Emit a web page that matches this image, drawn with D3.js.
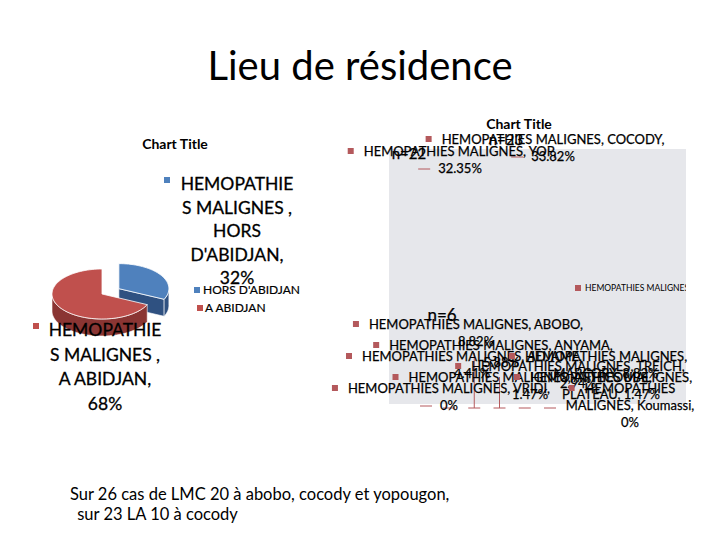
<!DOCTYPE html>
<html>
<head>
<meta charset="utf-8">
<script src="https://cdn.jsdelivr.net/npm/d3@7"></script>
<style>
  body { margin: 0; background: #fff; }
  svg { display: block; font-family: Lato, "Open Sans", sans-serif; }
</style>
</head>
<body>
<svg id="chart" width="720" height="540"></svg>
<script>
// left pie : lieu de residence
const pieCats = ["HORS D'ABIDJAN", "A ABIDJAN"];
const pieValues = [32, 68];
const pieTop = ["#4f81bd", "#c0504d"];
const pieWall = ["#2f5181", "#8a3533"];

// right chart : repartition par commune (68 cas)
const zones = ["COCODY", "YOP", "ABOBO", "ANYAMA", "ADJAME", "MARCORY", "TREICH", "ATTECOUBE", "VRIDI", "PLATEAU", "Koumassi"];
const cases = [23, 22, 6, 4, 3, 6, 2, 1, 0, 1, 0];
const nLabels = ["n=23", "n=22", "n=6"];
const leadZones = ["ABOBO", "ANYAMA", "ADJAME", "MARCORY", "TREICH"];

// label placement (layout only)
const labelLayout = {
  COCODY:    { cx: 553, y: 144, wrap: 1, dash: true },
  YOP:       { cx: 460, y: 156, wrap: 1, dash: true },
  ABOBO:     { cx: 476, y: 329, wrap: 1 },
  ANYAMA:    { cx: 501, y: 350, wrap: 1, leadTop: 353 },
  ADJAME:    { cx: 472, y: 361, wrap: 1, leadTop: 377 },
  MARCORY:   { cx: 606, y: 361, wrap: 2 },
  TREICH:    { cx: 578, y: 371, wrap: 1 },
  ATTECOUBE: { cx: 530, y: 382, wrap: 1 },
  VRIDI:     { cx: 449, y: 393, wrap: 1, dash: true },
  PLATEAU:   { cx: 611, y: 382, wrap: 2 },
  Koumassi:  { cx: 630, y: 393, wrap: 3 }
};
const nLayout = [[506, 145, 15], [409, 159, 15], [442, 321, 17]];

const svg = d3.select("#chart");
const total = d3.sum(cases);
const fmtPct = v => v === 0 ? "0%" : d3.format(".2f")(v) + "%";
const ink = "#000";

// main title
svg.append("text")
  .attr("x", 360).attr("y", 80)
  .attr("text-anchor", "middle")
  .style("font-size", "40px").attr("fill", ink)
  .text("Lieu de résidence");

// ---------- left pie ----------
svg.append("text")
  .attr("x", 175).attr("y", 149)
  .attr("text-anchor", "middle")
  .style("font-size", "14px").style("font-weight", "bold")
  .text("Chart Title");

const rx = 50, ry = 25, depth = 17;
const pieG = svg.append("g").attr("transform", "translate(102,294)");
const arcs = d3.pie().sort(null).value(d => d)(pieValues);
const pt = a => [rx * Math.sin(a), -ry * Math.cos(a)];

function arcPts(a0, a1) {
  const n = Math.max(2, Math.ceil((a1 - a0) / 0.05));
  return d3.range(n + 1).map(i => pt(a0 + (a1 - a0) * i / n));
}

arcs.forEach((d, i) => {
  const mid = (d.startAngle + d.endAngle) / 2;
  const off = i === 0 ? 20 : 0;
  const g = pieG.append("g")
    .attr("transform", `translate(${off * Math.sin(mid)},${-off * Math.cos(mid) * ry / rx})`);
  // cut face at end angle (visible for the exploded slice)
  const pe = pt(d.endAngle);
  g.append("path")
    .attr("d", `M0,0L${pe}L${pe[0]},${pe[1] + depth}L0,${depth}Z`)
    .attr("fill", pieWall[i]).attr("stroke", "#fff").attr("stroke-width", 0.6);
  // outer wall, front half only
  const s = Math.max(d.startAngle, Math.PI / 2), e = Math.min(d.endAngle, Math.PI * 1.5);
  if (s < e) {
    const top = arcPts(s, e);
    const bottom = top.map(p => [p[0], p[1] + depth]).reverse();
    g.append("path")
      .attr("d", "M" + top.concat(bottom).join("L") + "Z")
      .attr("fill", pieWall[i]).attr("stroke", "#fff").attr("stroke-width", 0.6);
  }
  g.append("path")
    .attr("d", "M0,0L" + arcPts(d.startAngle, d.endAngle).join("L") + "Z")
    .attr("fill", pieTop[i]).attr("stroke", "#fff").attr("stroke-width", 0.8);
});

// pie data labels
const pieLabelPos = [[237, 190, 23.5, 164, 177], [105, 336, 24.5, 33, 323]];
pieCats.forEach((c, i) => {
  const words = c.length > 10 ? c.split(" ") : [c];
  words[words.length - 1] += ",";
  const lines = ["HEMOPATHIE", "S MALIGNES ,"].concat(words, [pieValues[i] + "%"]);
  const [cx, y0, lh, mx, my] = pieLabelPos[i];
  svg.append("rect").attr("x", mx).attr("y", my).attr("width", 6).attr("height", 6).attr("fill", pieTop[i]);
  const t = svg.append("text").attr("text-anchor", "middle").style("font-size", "17.5px")
    .attr("fill", ink).attr("stroke", ink).attr("stroke-width", 0.3);
  lines.forEach((l, k) => t.append("tspan").attr("x", cx).attr("y", y0 + k * lh).text(l));
});

// pie legend
const legY = d3.scalePoint().domain(pieCats).range([290, 308]);
pieCats.forEach((c, i) => {
  svg.append("rect").attr("x", 194 + i * 3).attr("y", legY(c) - 3).attr("width", 6).attr("height", 6).attr("fill", pieTop[i]);
  svg.append("text").attr("x", 203 + i * 2).attr("y", legY(c) + 4)
    .style("font-size", "12px").attr("fill", ink).attr("stroke", ink).attr("stroke-width", 0.2).text(c);
});

// ---------- right chart ----------
const plot = { x0: 389, x1: 686, y0: 149, y1: 404 };
svg.append("defs").append("clipPath").attr("id", "plotClip")
  .append("rect").attr("x", plot.x0).attr("y", 0).attr("width", plot.x1 - plot.x0).attr("height", 540);

svg.append("rect")
  .attr("x", plot.x0).attr("y", plot.y0)
  .attr("width", plot.x1 - plot.x0).attr("height", plot.y1 - plot.y0)
  .attr("fill", "#e6e7eb");

svg.append("text")
  .attr("x", 519).attr("y", 129)
  .attr("text-anchor", "middle")
  .style("font-size", "14px").style("font-weight", "bold")
  .text("Chart Title");

// series legend (clipped by the plot edge)
svg.append("g").attr("clip-path", "url(#plotClip)")
  .call(g => {
    g.append("rect").attr("x", 575).attr("y", 285).attr("width", 6).attr("height", 6).attr("fill", "#b4595c");
    g.append("text").attr("x", 585).attr("y", 291).style("font-size", "8.5px").attr("fill", ink).text("HEMOPATHIES MALIGNES");
  });

const markColor = "#b4595c";
const xLead = d3.scalePoint().domain(leadZones).range([449, 550]);
const lh = 17;

// leader lines to the bottom edge
leadZones.forEach(z => {
  const x = xLead(z), L = labelLayout[z];
  svg.append("line").attr("x1", x - 6).attr("x2", x + 6).attr("y1", plot.y1 + 4).attr("y2", plot.y1 + 4)
    .attr("stroke", markColor).attr("stroke-width", 1);
  if (L.leadTop) {
    svg.append("line").attr("x1", x).attr("x2", x).attr("y1", L.leadTop).attr("y2", plot.y1 + 4)
      .attr("stroke", markColor).attr("stroke-width", 1);
  }
});

zones.forEach((z, i) => {
  const L = labelLayout[z];
  const pct = fmtPct(cases[i] / total * 100);
  let lines;
  if (L.wrap === 1) lines = [`HEMOPATHIES MALIGNES,  ${z},`, pct];
  else if (L.wrap === 2) lines = ["HEMOPATHIES MALIGNES,", `${z}, ${pct}`];
  else lines = ["HEMOPATHIES", `MALIGNES,  ${z},`, pct];
  const t = svg.append("text").attr("text-anchor", "middle")
    .style("font-size", "13px").attr("fill", ink).attr("stroke", ink).attr("stroke-width", 0.25);
  lines.forEach((l, k) => t.append("tspan").attr("x", L.cx).attr("y", L.y + k * lh).text(l));
  const tsp = t.selectAll("tspan").nodes();
  const w0 = tsp[0].getComputedTextLength();
  svg.append("rect")
    .attr("x", L.cx - w0 / 2 - 16).attr("y", L.y - 8)
    .attr("width", 6).attr("height", 6).attr("fill", markColor);
  if (L.dash) {
    const wl = tsp[lines.length - 1].getComputedTextLength();
    const yl = L.y + (lines.length - 1) * lh - 4;
    svg.append("line")
      .attr("x1", L.cx - wl / 2 - 20).attr("x2", L.cx - wl / 2 - 8)
      .attr("y1", yl).attr("y2", yl)
      .attr("stroke", markColor).attr("stroke-width", 1);
  }
});

// n= annotations
nLabels.forEach((n, i) => {
  const [x, y, fs] = nLayout[i];
  svg.append("text").attr("x", x).attr("y", y).attr("text-anchor", "middle")
    .style("font-size", fs + "px").attr("fill", ink).attr("stroke", ink).attr("stroke-width", 0.25).text(n);
});

// footnote
const notes = ["Sur 26 cas de LMC 20 à abobo, cocody et yopougon,", " sur 23 LA 10 à cocody"];
notes.forEach((s, i) => {
  svg.append("text").attr("x", 70 + i * 3).attr("y", 500 + i * 20)
    .style("font-size", "16.5px").attr("fill", ink)
    .attr("xml:space", "preserve").text(s);
});
</script>
</body>
</html>
